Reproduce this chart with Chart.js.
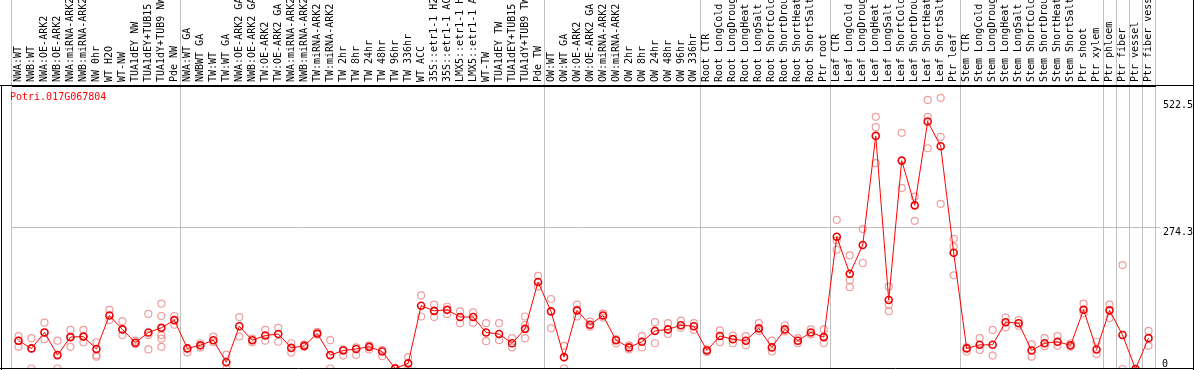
<!DOCTYPE html>
<html>
<head>
<meta charset="utf-8">
<script src="https://cdn.jsdelivr.net/npm/chart.js@4.4.0/dist/chart.umd.min.js"></script>
<style>
  html, body { margin: 0; padding: 0; background: #fff; }
  canvas { display: block; }
</style>
</head>
<body>
<canvas id="exprChart" width="1194" height="370"></canvas>
<script>
// gen y muestras
const geneId = 'Potri.017G067804';

const labels = [
  'NWA:WT', 'NWB:WT', 'NWA:OE-ARK2', 'NWB:OE-ARK2', 'NWA:miRNA-ARK2', 'NWB:miRNA-ARK2',
  'NW 0hr', 'WT H2O', 'WT-NW', 'TUA1dEY NW', 'TUA1dEY+TUB15 NW', 'TUA1dY+TUB9 NW', 'Pde NW',
  'NWA:WT GA', 'NWBWT GA', 'TW:WT', 'TW:WT GA', 'NWA:OE-ARK2 GA', 'NWB:OE-ARK2 GA',
  'TW:OE-ARK2', 'TW:OE-ARK2 GA', 'NWA:miRNA-ARK2', 'NWB:miRNA-ARK2', 'TW:miRNA-ARK2',
  'TW:miRNA-ARK2', 'TW 2hr', 'TW 8hr', 'TW 24hr', 'TW 48hr', 'TW 96hr', 'TW 336hr',
  'WT ACC', '35S::etr1-1 H2O', '35S::etr1-1 ACC', 'LMX5::etr1-1 H2O', 'LMX5::etr1-1 ACC',
  'WT-TW', 'TUA1dEY TW', 'TUA1dEY+TUB15 TW', 'TUA1dY+TUB9 TW', 'Pde TW',
  'OW:WT', 'OW:WT GA', 'OW:OE-ARK2', 'OW:OE-ARK2 GA', 'OW:miRNA-ARK2', 'OW:miRNA-ARK2',
  'OW 2hr', 'OW 8hr', 'OW 24hr', 'OW 48hr', 'OW 96hr', 'OW 336hr',
  'Root CTR', 'Root LongCold', 'Root LongDrought', 'Root LongHeat', 'Root LongSalt',
  'Root ShortCold', 'Root ShortDrought', 'Root ShortHeat', 'Root ShortSalt', 'Ptr root',
  'Leaf CTR', 'Leaf LongCold', 'Leaf LongDrought', 'Leaf LongHeat', 'Leaf LongSalt',
  'Leaf ShortCold', 'Leaf ShortDrought', 'Leaf ShortHeat', 'Leaf ShortSalt', 'Ptr leaf',
  'Stem CTR', 'Stem LongCold', 'Stem LongDrought', 'Stem LongHeat', 'Stem LongSalt',
  'Stem ShortCold', 'Stem ShortDrought', 'Stem ShortHeat', 'Stem ShortSalt', 'Ptr shoot',
  'Ptr xylem', 'Ptr phloem', 'Ptr fiber', 'Ptr vessel', 'Ptr fiber vessel'
];

// valores medios
const means = [
  55, 40, 71, 27, 62, 63, 39, 104, 77, 51, 71, 80, 95,
  40, 46, 56, 13, 83, 56, 65, 68, 41, 45, 69, 27, 36, 39, 43, 34, 1, 11,
  123, 113, 115, 101, 101, 71, 68, 50, 78, 169,
  112, 23, 114, 86, 104, 56, 42, 53, 74, 77, 85, 83,
  36, 64, 58, 55, 79, 42, 77, 55, 71, 62,
  257, 185, 241, 453, 134, 405, 318, 481, 433, 226,
  40, 47, 47, 91, 89, 36, 50, 53, 46, 115, 38,
  114, 66, 0, 60
];

// replicas de cada muestra
const reps = [
  [64, 55, 43], [60, 40, 1], [90, 71, 58], [55, 1], [76, 62, 43], [76, 63, 52],
  [52, 27, 24], [115, 95], [93, 77, 66], [55, 51, 48], [107, 66, 38],
  [127, 103, 66, 59, 43], [103, 86],
  [40, 32], [50, 42], [63, 52], [28, 1], [101, 63], [59, 52], [76, 55], [80, 53],
  [50, 32], [48, 43], [72, 67], [56, 1], [38, 26], [42, 27], [46, 38], [37, 25],
  [2, 0], [23, 1], [143, 102], [125, 101], [121, 107], [112, 89], [110, 90],
  [89, 54], [89, 56], [60, 42], [102, 86, 60], [181, 160],
  [136, 79], [45, 1], [125, 102], [92, 82], [108, 100], [58, 50], [46, 38],
  [64, 42], [91, 50], [89, 68], [94, 80], [89, 76],
  [38, 33], [75, 52], [65, 50], [64, 46], [89, 74], [55, 34], [85, 73], [60, 50],
  [77, 67], [77, 50],
  [290, 250, 232], [221, 173, 159], [272, 206], [490, 470, 400], [160, 125, 112],
  [459, 352], [335, 288], [523, 490, 429], [527, 451, 321], [253, 238, 182],
  [42, 34], [60, 37], [76, 26], [100, 81], [95, 84], [48, 24], [60, 44], [64, 45],
  [50, 43], [127, 108], [53, 29],
  [125, 99], [202, 0], [0], [74, 45]
];

// inicio de cada grupo (lineas grises)
const groupStarts = [0, 13, 41, 53, 63, 73, 84, 85, 86, 87];
const yTicks = [274.3, 522.5];
const yMax = 550;

const monoFont = { family: '"DejaVu Sans Mono", monospace', size: 10 };

const maxReps = Math.max(...reps.map(r => r.length));
const repSets = [];
for (let k = 0; k < maxReps; k++) {
  repSets.push({
    label: 'rep' + (k + 1),
    data: reps.map(r => (r[k] === undefined ? null : r[k])),
    showLine: false,
    pointRadius: 3.5,
    pointBorderWidth: 1.2,
    pointBorderColor: 'rgba(232,125,125,0.75)',
    pointBackgroundColor: 'transparent',
    order: 2
  });
}

// quita el relleno que Chart.js deja para las etiquetas
const tightFit = (s, size) => {
  if (s.isHorizontal()) s.height = size; else s.width = size;
  s.paddingTop = 0; s.paddingBottom = 0; s.paddingLeft = 0; s.paddingRight = 0;
};

const frame = {
  id: 'frame',
  afterDraw(chart) {
    const c = chart.ctx;
    const a = chart.chartArea;
    const w = chart.width, h = chart.height;
    c.save();
    c.strokeStyle = '#000';
    c.lineWidth = 1;
    c.beginPath();
    c.moveTo(0, a.top - 0.5); c.lineTo(w, a.top - 0.5);
    c.moveTo(0, a.bottom - 0.5); c.lineTo(w, a.bottom - 0.5);
    c.moveTo(1.5, a.top); c.lineTo(1.5, h);
    c.moveTo(w - 0.5, 0); c.lineTo(w - 0.5, h);
    c.stroke();
    c.fillStyle = '#ff0000';
    c.font = '10px "DejaVu Sans Mono", monospace';
    c.textBaseline = 'top';
    c.fillText(geneId, 10, a.top + 6);
    c.restore();
  }
};

const ctx = document.getElementById('exprChart').getContext('2d');
new Chart(ctx, {
  type: 'line',
  data: {
    labels: labels,
    datasets: [{
      label: geneId,
      data: means,
      borderColor: '#ff0000',
      borderWidth: 1,
      pointRadius: 3.5,
      pointBorderWidth: 1.6,
      pointBorderColor: '#ee0000',
      pointBackgroundColor: 'transparent',
      tension: 0,
      order: 1
    }, ...repSets]
  },
  plugins: [frame],
  options: {
    responsive: false,
    devicePixelRatio: 1,
    animation: false,
    layout: { autoPadding: false, padding: { left: 12, right: 1, top: 0, bottom: 1 } },
    plugins: { legend: { display: false }, tooltip: { enabled: false } },
    scales: {
      x: {
        type: 'category',
        position: 'top',
        offset: true,
        grid: {
          offset: true,
          tickLength: 86,
          color: c => (c.type !== 'tick' || groupStarts.includes(c.index)) ? '#c0c0c0' : 'transparent'
        },
        border: { color: '#000' },
        ticks: {
          autoSkip: false,
          minRotation: 90,
          maxRotation: 90,
          padding: -82,
          labelOffset: 12,
          color: '#000',
          font: monoFont
        },
        afterFit: s => tightFit(s, 86)
      },
      y0: {
        position: 'right',
        min: 0,
        max: yMax,
        weight: 0,
        afterBuildTicks: s => { s.ticks = [{ value: 0 }]; },
        grid: { drawOnChartArea: false, tickLength: 5, color: 'transparent' },
        border: { display: false },
        ticks: { mirror: true, align: 'end', padding: 13, color: '#000', font: monoFont, callback: v => String(v) },
        afterFit: s => tightFit(s, 0)
      },
      y: {
        position: 'right',
        min: 0,
        max: yMax,
        weight: 1,
        afterBuildTicks: s => { s.ticks = yTicks.map(v => ({ value: v })); },
        grid: {
          tickLength: 5,
          color: c => (c.tick && c.tick.value === 274.3) ? '#c0c0c0' : 'transparent'
        },
        border: { display: false },
        ticks: { align: 'start', padding: 3, color: '#000', font: monoFont, callback: v => String(v) },
        afterFit: s => tightFit(s, 38)
      }
    }
  }
});
</script>
</body>
</html>
